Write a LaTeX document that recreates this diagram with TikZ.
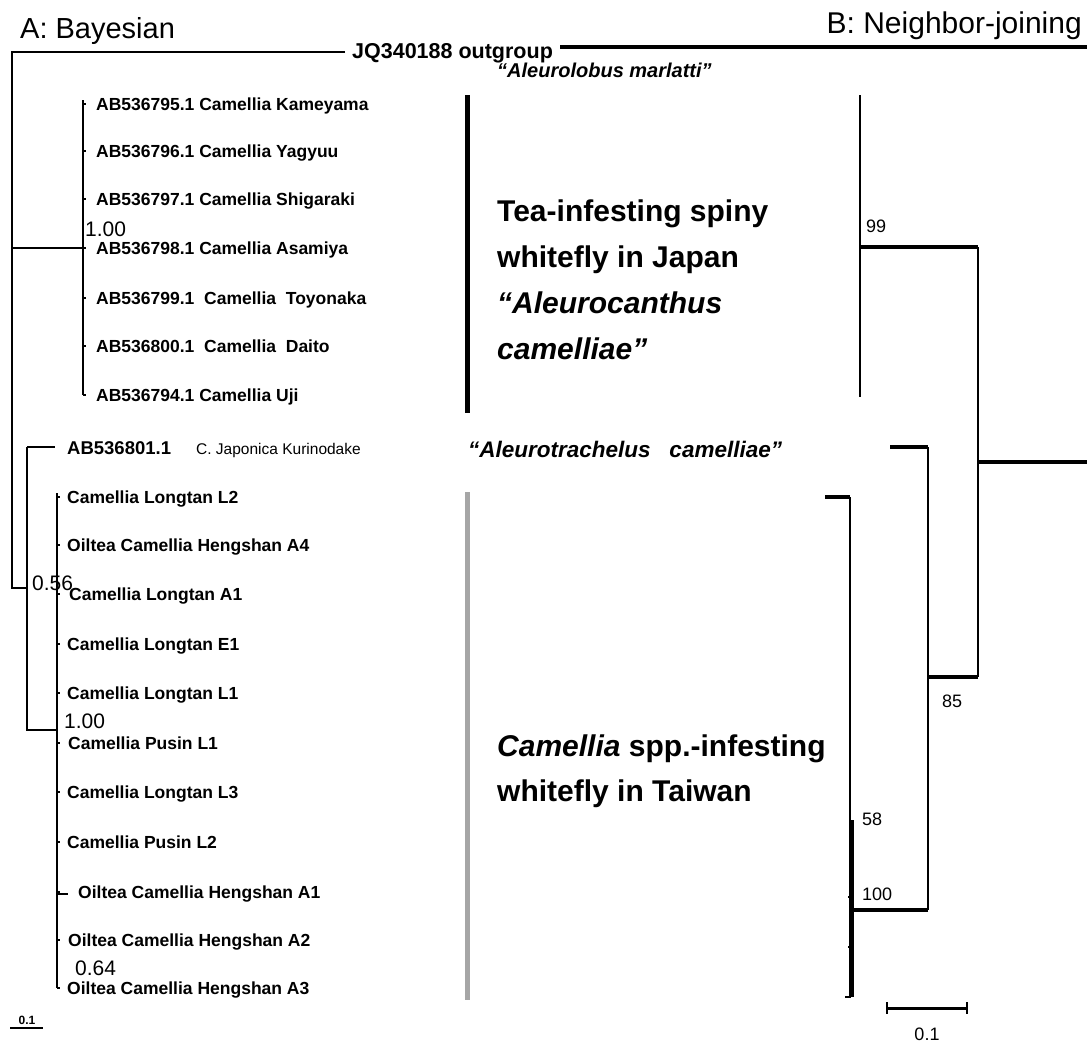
\documentclass[tikz,border=0pt]{standalone}
\usepackage{fontspec}
\setmainfont{Liberation Sans}
\usetikzlibrary{positioning}
\tikzset{
 leaf/.style={anchor=base west,inner sep=0pt,font=\bfseries\fontsize{17.5}{20}\selectfont},
 prob/.style={anchor=base west,inner sep=0pt,font=\fontsize{21}{24}\selectfont},
 boot/.style={anchor=base west,inner sep=0pt,font=\fontsize{18}{20}\selectfont},
 head/.style={inner sep=0pt,font=\fontsize{30}{32}\selectfont},
 group/.style={anchor=base west,inner sep=0pt,align=left,font=\bfseries\fontsize{30}{46}\selectfont},
 taxon/.style={anchor=base west,inner sep=0pt,font=\bfseries\itshape\fontsize{20}{22}\selectfont},
 br/.style={line width=2pt},
 nj/.style={line width=1.8pt},
 njthick/.style={line width=4pt},
 bar/.style={line width=5pt}
}
\begin{document}
\begin{tikzpicture}[x=1pt,y=-1pt]
\useasboundingbox (0,0) rectangle (1087,1044);
\node[head,anchor=base west,font=\fontsize{29}{32}\selectfont] (tA) at (20,38) {A: Bayesian};
\node[head,anchor=base east] (tB) at (1082,34) {B: Neighbor-joining};
% Bayesian tree
\coordinate (rootA) at (12,52);
\coordinate (out) at (345,52);
\coordinate (jp) at (83,248);
\coordinate (n56) at (27,588);
\coordinate (tw) at (57,730);
\node[leaf,font=\bfseries\fontsize{21.5}{22}\selectfont] (og) at (352,58) {JQ340188 outgroup};
\draw[br] (out) -| (rootA |- n56) -- (n56);
\draw[br] (rootA |- jp) -- (jp);
\draw[br] (83,100) -- (83,395);
\node[prob] (p1) at (85,236) {1.00};
\foreach \y/\t [count=\i] in {104/AB536795.1 Camellia Kameyama,151/AB536796.1 Camellia Yagyuu,
  199/AB536797.1 Camellia Shigaraki,248/AB536798.1 Camellia Asamiya,298/AB536799.1\ \ Camellia\ \ Toyonaka,
  346/AB536800.1\ \ Camellia\ \ Daito,395/AB536794.1 Camellia Uji}{
  \node[leaf] (j\i) at (96,{\y+6}) {\t};
  \draw[br] (jp |- 0,\y) -- +(3,0);
}
\draw[br] (n56 |- 0,447) -- (n56 |- tw) -- (tw);
\node[leaf,font=\bfseries\fontsize{18.5}{22}\selectfont] (ab) at (67,454) {AB536801.1};
\node[leaf,font=\fontsize{15.5}{20}\selectfont] (kur) at (196,454) {C.\ Japonica\ Kurinodake};
\draw[br] (n56 |- 0,447) -- (55,447);
\node[prob] (p56) at (32,590) {0.56};
\draw[br] (57,493) -- (57,988);
\node[prob] (p2) at (64,728) {1.00};
\node[prob] (p64) at (75,975) {0.64};
\foreach \y/\x/\t [count=\i] in {497/67/Camellia Longtan L2,545/67/Oiltea Camellia Hengshan A4,
  594/69/Camellia Longtan A1,644/67/Camellia Longtan E1,693/67/Camellia Longtan L1,
  743/68/Camellia Pusin L1,792/67/Camellia Longtan L3,842/67/Camellia Pusin L2,
  892/78/Oiltea Camellia Hengshan A1,940/68/Oiltea Camellia Hengshan A2,988/67/Oiltea Camellia Hengshan A3}{
  \node[leaf] (t\i) at (\x,{\y+6}) {\t};
  \draw[br] (tw |- 0,\y) -- +(3,0);
}
\draw[br] (tw |- t9.west) -- +(11,0);
\node[inner sep=0pt,font=\bfseries\fontsize{12}{14}\selectfont] (sA) at (27,1020) {0.1};
\draw[br] (10,1028) -- (43,1028);
% clade bars and names
\draw[bar] (467,95) -- (467,413);
\draw[bar,gray!70] (467,492) -- (467,1000);
\node[taxon] (alm) at (497,77) {“Aleurolobus marlatti”};
\node[group] (gJ) at (497,359) {Tea-infesting spiny\\whitefly in Japan\\\itshape“Aleurocanthus\\\itshape camelliae”};
\node[taxon,font=\bfseries\itshape\fontsize{22.5}{24}\selectfont] (alc) at (468,457) {“Aleurotrachelus\ \ \ camelliae”};
\node[group,font=\bfseries\fontsize{30}{45}\selectfont] (gT) at (497,801) {\itshape Camellia\upshape\ spp.-infesting\\whitefly in Taiwan};
% Neighbor-joining tree
\coordinate (outB) at (560,47);
\coordinate (rootB) at (1087,462);
\coordinate (b99) at (978,247);
\coordinate (b85) at (978,677);
\coordinate (b100) at (928,910);
\draw[njthick] (outB) -- (1087,47);
\draw[njthick] (b99 |- rootB) -- (rootB);
\draw[nj] (b99) -- (b85);
\draw[njthick] (860,247) -- (b99);
\draw[nj] (860,95) -- (860,397);
\draw[njthick] (b85) -- (b85 -| b100);
\draw[nj] (928,447) -- (b100);
\draw[njthick] (890,447) -- (928,447);
\draw[njthick] (b100) -- (852,910);
\draw[njthick] (825,497) -- (850,497);
\draw[nj] (850,497) -- (850,997) -- (845,997);
\draw[line width=3pt] (852,820) -- (852,997);
\draw[nj] (848,897) -- (852,897) (848,947) -- (852,947);
\node[boot] (s99) at (866,232) {99};
\node[boot] (s85) at (942,707) {85};
\node[boot] (s58) at (862,825) {58};
\node[boot] (s100) at (862,900) {100};
\draw[line width=3pt] (887,1008) -- (967,1008);
\draw[nj] (887,1002) -- (887,1014) (967,1002) -- (967,1014);
\node[boot,anchor=base] (sB) at (927,1040) {0.1};
\end{tikzpicture}
\end{document}
